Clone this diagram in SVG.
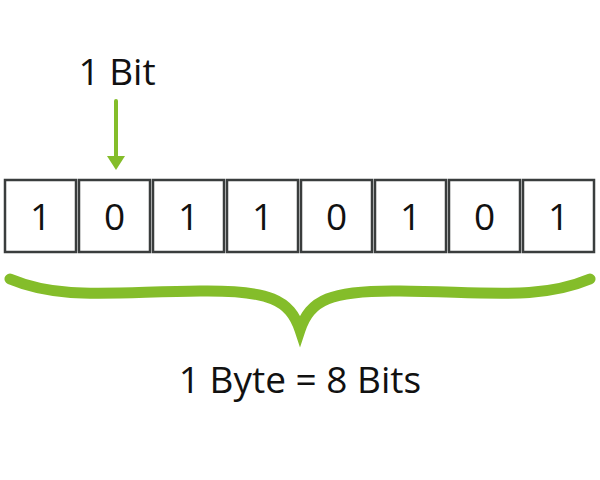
<svg xmlns="http://www.w3.org/2000/svg" width="600" height="480" viewBox="0 0 600 480">
<style>
.b{fill:#fff;stroke:#3a3d3d;stroke-width:2.5}
.t{font-family:"Open Sans","Liberation Sans",sans-serif;font-size:37px;fill:#111;text-anchor:middle}
.g{fill:none;stroke:#84bd2a;stroke-linecap:round}
</style>
<rect width="600" height="480" fill="#fff"/>
<g id="label-bit"><text class="t" x="117" y="85">1 Bit</text></g>
<g id="connectors">
<line class="g" x1="116" y1="101" x2="116" y2="158" stroke-width="4"/>
<polygon points="107,156 125,156 116,170" fill="#84bd2a"/>
<path class="g" stroke-width="11" d="M10,279 C60,300 110,292 200,291 C270,290 290,300 300,330 C310,300 330,290 400,291 C490,292 540,300 590,279"/>
</g>
<g id="bits">
<rect class="b" x="5" y="180" width="71" height="72"/><text class="t" x="40.5" y="230">1</text>
<rect class="b" x="79" y="180" width="71" height="72"/><text class="t" x="114.5" y="230">0</text>
<rect class="b" x="153" y="180" width="71" height="72"/><text class="t" x="188.5" y="230">1</text>
<rect class="b" x="227" y="180" width="71" height="72"/><text class="t" x="262.5" y="230">1</text>
<rect class="b" x="301" y="180" width="71" height="72"/><text class="t" x="336.5" y="230">0</text>
<rect class="b" x="375" y="180" width="71" height="72"/><text class="t" x="410.5" y="230">1</text>
<rect class="b" x="449" y="180" width="71" height="72"/><text class="t" x="484.5" y="230">0</text>
<rect class="b" x="523" y="180" width="71" height="72"/><text class="t" x="558.5" y="230">1</text>
</g>
<g id="label-byte"><text class="t" x="300" y="393">1 Byte = 8 Bits</text></g>
</svg>
